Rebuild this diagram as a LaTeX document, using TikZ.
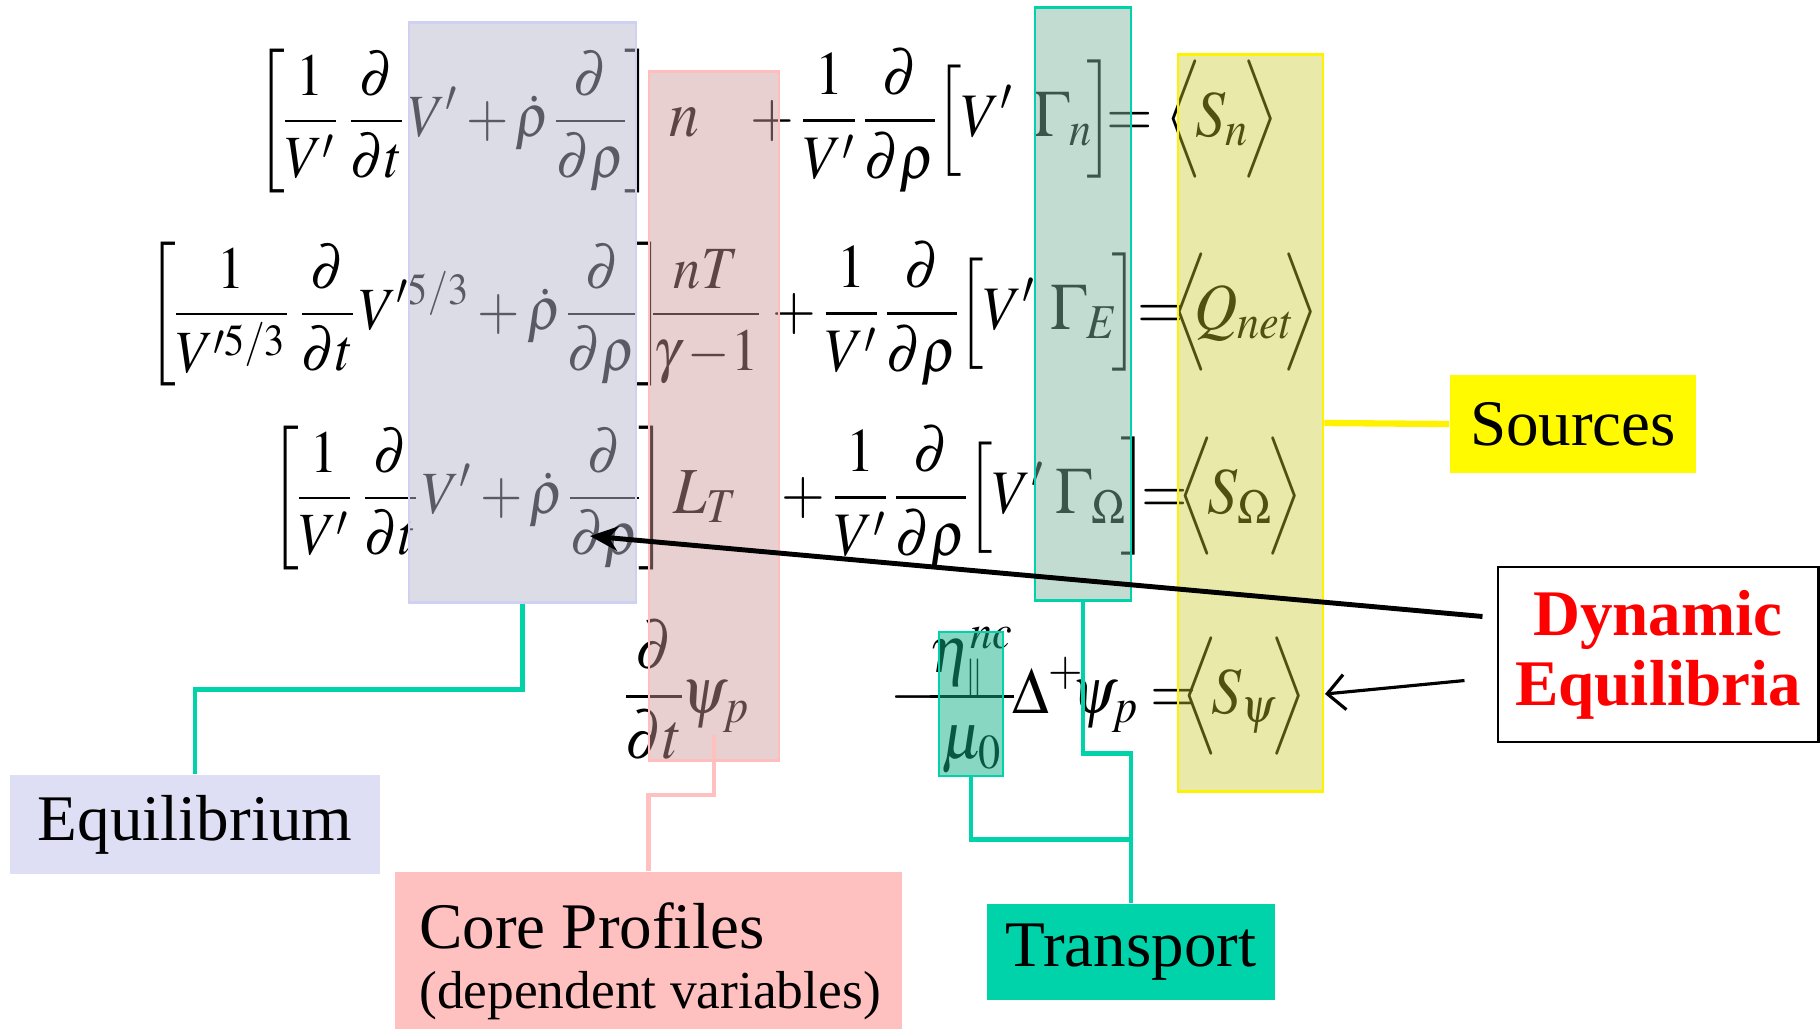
\documentclass[tikz,border=0pt]{standalone}
\usepackage{amsmath}
\usepackage{graphicx}
\usepackage{mathptmx}
\usepackage[no-math]{fontspec}
\setmainfont{Liberation Serif}
\usetikzlibrary{arrows.meta}
\definecolor{eqtint}{RGB}{184,184,204}
\definecolor{eqedge}{RGB}{208,208,242}
\definecolor{eqback}{RGB}{222,222,245}
\definecolor{pktint}{RGB}{206,152,152}
\definecolor{pkedge}{RGB}{255,190,190}
\definecolor{pkback}{RGB}{255,192,192}
\definecolor{trtint}{RGB}{128,181,160}
\definecolor{trsmall}{RGB}{15,175,135}
\definecolor{trgreen}{RGB}{0,210,170}
\definecolor{srctint}{RGB}{200,200,40}
\definecolor{srcback}{RGB}{255,250,0}
\newcommand{\eqm}[1]{\scalebox{1}[1.1]{$\nulldelimiterspace=0pt\displaystyle #1$}}
\begin{document}
\begin{tikzpicture}[x=0.01cm, y=-0.01cm,
  eqn/.style={anchor=base, inner sep=0pt, font=\fontsize{17}{20}\selectfont},
  eqsmall/.style={eqn, font=\fontsize{15.5}{19}\selectfont},
  eqmid/.style={eqn, font=\fontsize{16}{19}\selectfont},
  colbox/.style={rectangle, inner sep=0pt, line width=0.8pt},
  lbl/.style={rectangle, inner sep=0pt, font=\fontsize{18.5}{21}\selectfont},
  tline/.style={draw=trgreen, line width=1.2pt},
]
\useasboundingbox (0,0) rectangle (1820,1029);

% equations
\node[eqsmall] (l1) at (455,136) {\eqm{\left[\frac{1}{V'}\mkern5mu\frac{\partial}{\partial t}\mkern2mu V'+\dot{\rho}\mkern2mu\frac{\partial}{\partial\rho}\right]}};
\node[eqn] (n1) at (684,136) {\eqm{n}};
\node[eqmid] (p1) at (882,136) {\eqm{+\mkern3mu\frac{1}{V'}\mkern3mu\frac{\partial}{\partial\rho}\Bigl[V'}};
\node[eqn] (g1) at (1074,136) {\eqm{\Gamma_{n}\!\Bigr]}};
\node[eqn] (e1) at (1130,136) {\eqm{=}};
\node[eqn] (s1) at (1222,136) {\eqm{\Bigl\langle\! S_{n}\!\Bigr\rangle}};

\node[eqsmall] (l2) at (406,329) {\eqm{\left[\frac{1}{V'^{5/3}}\mkern5mu\frac{\partial}{\partial t}\mkern2mu V'^{5/3}+\dot{\rho}\mkern2mu\frac{\partial}{\partial\rho}\right]}};
\node[eqsmall] (f2) at (706,329) {\eqm{\frac{nT}{\gamma-\!1}}};
\node[eqmid] (p2) at (904,329) {\eqm{+\mkern3mu\frac{1}{V'}\mkern3mu\frac{\partial}{\partial\rho}\Bigl[V'}};
\node[eqn] (g2) at (1095,329) {\eqm{\Gamma_{E}\!\Bigr]}};
\node[eqn] (e2) at (1161,329) {\eqm{=}};
\node[eqn] (s2) at (1245,329) {\eqm{\Bigl\langle\!\! Q_{net}\!\!\Bigr\rangle}};

\node[eqsmall] (l3) at (469,513) {\eqm{\left[\frac{1}{V'}\mkern5mu\frac{\partial}{\partial t}\mkern2mu V'+\dot{\rho}\mkern2mu\frac{\partial}{\partial\rho}\right]}};
\node[eqn] (t3) at (706,513) {\eqm{L_{T}}};
\node[eqmid] (p3) at (913,513) {\eqm{+\mkern3mu\frac{1}{V'}\mkern3mu\frac{\partial}{\partial\rho}\Bigl[V'}};
\node[eqn] (g3) at (1102,513) {\eqm{\Gamma_{\Omega}\!\Bigr]}};
\node[eqn] (e3) at (1165,513) {\eqm{=}};
\node[eqn] (s3) at (1240,513) {\eqm{\Bigl\langle\! S_{\Omega}\!\Bigr\rangle}};

\node[eqn] (d4) at (688,713) {\eqm{\frac{\partial}{\partial t}\psi_{p}}};
\node[eqn] (m4) at (914,713) {\eqm{-}};
\node[eqn] (k4) at (972,713) {\eqm{\frac{\smash[b]{\raisebox{-1pt}{$\eta_{\scriptscriptstyle\parallel}^{nc}$}}}{\mu_{0}}}};
\node[eqn] (q4) at (1076,713) {\eqm{\Delta^{+}\!\!\psi_{p}}};
\node[eqn] (e4) at (1174,713) {\eqm{=}};
\node[eqn] (s4) at (1244,713) {\eqm{\Bigl\langle\! S_{\psi}\!\Bigr\rangle}};

% highlight columns
\node[colbox, fill=eqtint, fill opacity=0.49, draw=eqedge, minimum width=2.27cm, minimum height=5.79cm] (eqcol) at (522.5,312.5) {};
\node[colbox, fill=pktint, fill opacity=0.46, draw=pkedge, minimum width=1.30cm, minimum height=6.88cm] (pkcol) at (714,416) {};
\node[colbox, fill=trtint, fill opacity=0.47, draw=trgreen, minimum width=0.96cm, minimum height=5.92cm] (trcol) at (1083,304) {};
\node[colbox, fill=trsmall, fill opacity=0.5, draw=trgreen, minimum width=0.64cm, minimum height=1.44cm] (etabox) at (971,704) {};
\node[colbox, fill=srctint, fill opacity=0.4, draw=yellow, minimum width=1.45cm, minimum height=7.36cm] (srccol) at (1250.5,423) {};

% labels
\node[lbl, fill=eqback, minimum width=3.70cm, minimum height=0.99cm] (eqlbl) at (195,824.5) {Equilibrium};
\node[lbl, fill=pkback, minimum width=5.07cm, minimum height=1.57cm] (corelbl) at (648.5,950.5) {};
\node[lbl, align=left] (coretxt) at (650,961) {Core Profiles\\[-4pt]{\fontsize{15.2}{18}\selectfont (dependent variables)}};
\node[lbl, fill=trgreen, minimum width=2.88cm, minimum height=0.96cm] (trlbl) at (1131,952) {Transport};
\node[lbl, fill=srcback, minimum width=2.46cm, minimum height=0.98cm] (srclbl) at (1573,424) {Sources};
\node[lbl, draw=black, line width=0.8pt, fill=white, text=red, font=\fontsize{18.5}{20}\selectfont\bfseries, align=center, minimum width=3.20cm, minimum height=1.75cm] (dynlbl) at (1658,654.5) {Dynamic\\Equilibria};

% connectors
\draw[tline] (eqcol.south) -- ++(0,86) -| (eqlbl.north);
\draw[draw=pkback, line width=1.2pt] (pkcol.south) ++(0,-27) -- ++(0,60) -| (corelbl.north);
\draw[tline] (trcol.south) -- ++(0,152) -| (trlbl.north);
\draw[tline] (etabox.south) -- ++(0,62) -| (trlbl.north);
\draw[draw=yellow, line width=1.8pt] (srccol.east) -- (srclbl.west);

\coordinate (drho) at (590,536);
\coordinate (spsi) at (1325,694);
\draw[-{Stealth[length=8pt,width=7pt]}, line width=1.4pt] ([xshift=-0.14cm, yshift=0.38cm]dynlbl.west) -- (drho);
\draw[-{Straight Barb[length=5pt,width=10pt]}, line width=0.9pt] ([xshift=-0.32cm, yshift=-0.26cm]dynlbl.west) -- (spsi);
\end{tikzpicture}
\end{document}
